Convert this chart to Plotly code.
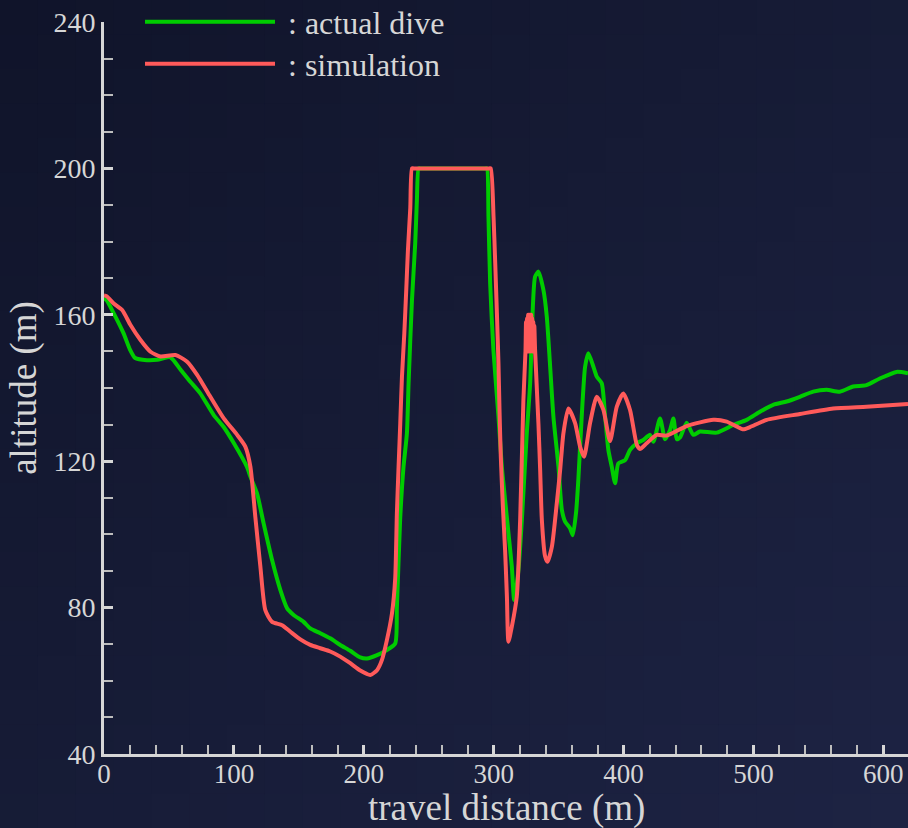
import plotly.graph_objects as go

# ---------------- data ----------------
dive_x = [0, 2, 7.5, 15, 20, 24, 33, 41, 51, 59, 66.5, 74, 84.5, 92, 100, 110, 112.7, 117.8,
          122.9, 129.4, 135.8, 141, 146, 153.7, 158.8, 166.5, 174.2, 181.9, 189.6, 197.3,
          202.5, 210.2, 217.8, 224.2, 225.5, 228, 230.6, 233.2, 234.5, 237.1, 239.6, 240.9,
          242.2, 243.5, 293.5, 294.8, 296, 297.3, 299.8, 303.7, 306.3, 308.8, 311.4, 314, 315.8, 319.1,
          321.7, 325.5, 328.1, 329.4, 331.9, 334.5, 338.3, 340.9, 343.5, 346, 349.9, 352.5,
          355, 358.8, 360.9, 363.5, 365.2, 367.8, 370.4, 372.9, 376.8, 379.4, 383.2, 385.8,
          388.3, 390.9, 393.5, 396, 401.2, 405, 410.2, 415.2, 420.4, 423, 428.1, 432, 435.8,
          438.4, 441, 443.5, 448.6, 453.7, 458.8, 471.7, 484.5, 494.8, 505, 515.2, 525.5,
          535.8, 546, 556.3, 566.5, 576.8, 587, 597.3, 610.2, 619]
dive_alt = [164.5, 164, 160.4, 155, 150.5, 148.2, 147.6, 147.7, 148.4, 145, 141.7, 138.6, 132.6,
            129.4, 124.9, 118.5, 115.8, 111.2, 103, 93, 84.8, 79.8, 78, 76.1, 74.3, 73, 71.6,
            69.8, 68.2, 66.4, 66.1, 67, 68.4, 70.2, 80, 104, 118.5, 127.6, 141.3, 164, 179.5,
            191.4, 200, 200, 200, 200, 186.8, 168.6, 150.4, 132.2, 118.5, 109.4, 100.3, 91.2, 82.1, 90.3,
            103.9, 127.6, 141.3, 155, 170.4, 171.8, 166.8, 159.5, 145.8, 132.2, 118.5, 106.7,
            103.5, 101.7, 99.8, 106.2, 115, 132.2, 145.8, 149.5, 145.8, 143.1, 141.3, 132.2,
            123.1, 118.5, 114, 119.4, 120.3, 123.1, 124.9, 125.8, 127.2, 125.3, 131.7, 126,
            128.5, 131.7, 126, 126.5, 130.5, 127.2, 128.1, 127.8, 129.9, 131.3, 133.5, 135.4,
            136.3, 137.6, 139, 139.5, 139, 140.4, 140.8, 142.6, 144.4, 144]

sim_x = [0, 2, 7.5, 14, 20.4, 28.1, 35.8, 43.5, 55, 64, 71.7, 81.9, 92.2, 102.5, 108.8, 112.7,
         116.5, 120.4, 124.2, 129.4, 137.1, 143.5, 151.2, 158.8, 166.5, 174.2, 181.9, 189.6,
         197.3, 205, 210.2, 214, 217.8, 221.7, 224.2, 225.5, 226.8, 228.1, 229.4, 231.2, 232.7,
         234, 235.8, 237.1, 238.4, 296.5, 297.8, 299.9, 301.2, 302.5, 303.7, 304.5, 305.5, 307.1, 308.8,
         310.2, 311.4, 314, 317.8, 320.4, 322.9, 324.5, 324.9, 325.3, 325.7, 326.1, 326.5,
         326.9, 327.3, 327.7, 328.1, 328.5, 328.9, 329.3, 329.7, 330.1, 330.5, 330.9, 331.3,
         331.9, 334.5, 335.8, 337.1, 339.6, 341.4, 344.8, 348.6, 351.2, 353.7, 357.5,
         362.7, 366.5, 369.6, 374.2, 379.4, 384.5, 389.6, 394.8, 399.8, 405, 410.2, 412.7,
         417.8, 425.5, 433.2, 448.6, 469.1, 479.4, 487, 492.2, 497.3, 510.2, 535.8, 561.4,
         587, 619]
sim_alt = [165.3, 165.1, 163.1, 161.3, 157.2, 153.1, 149.9, 148.6, 149, 147.2, 143.6, 137.6,
           131.7, 127.2, 124, 118.5, 104.8, 91.2, 79.3, 76.1, 75.2, 73.4, 71.3, 69.8, 68.9, 68,
           66.6, 64.8, 62.8, 61.6, 62.9, 65.7, 71.1, 78.4, 88, 105.8, 118.5, 130.4, 143.1,
           154.9, 166.8, 177.7, 189.1, 200, 200, 200, 200, 186.8, 174.1, 160.4, 146.7, 134, 121.2, 107.6,
           95.7, 83, 70.7, 74.8, 83, 104, 136.7, 150, 158, 151, 159, 150, 160,
           150, 160, 150, 160, 150, 160, 151, 159, 150, 158, 151, 157,
           150.4, 130, 117.6, 104, 94, 92.5, 96.6, 108.5, 117.6, 127.6, 134.4,
           130.4, 124, 121.2, 130.4, 137.6, 134, 125.5, 134.9, 138.5, 134, 124.5, 123.3,
           124.9, 127.2, 127, 129.6, 131.3, 130.8, 129.5, 128.7, 129.3, 131.3, 132.9, 134.4,
           134.9, 135.6]

series_names = ["\u00a0: actual dive", "\u00a0: simulation"]
x_title = "travel distance (m)"
y_title = "altitude (m)"
y_ticks = [40, 80, 120, 160, 200, 240]
x_ticks = [0, 100, 200, 300, 400, 500, 600]

# ---------------- style ----------------
GREEN = "#00cc00"
RED = "#ff5a5a"
AX = "#d6d6d6"
FONT = "Liberation Serif"

fig = go.Figure()
fig.add_trace(go.Scatter(x=dive_x, y=dive_alt, mode="lines", name=series_names[0],
                         line=dict(color=GREEN, width=4, shape="spline", smoothing=0.6),
                         legend="legend"))
fig.add_trace(go.Scatter(x=sim_x, y=sim_alt, mode="lines", name=series_names[1],
                         line=dict(color=RED, width=4, shape="spline", smoothing=0.6),
                         legend="legend2"))

# background gradient (diagonal) made of rectangles
W, H = 908, 828
L, R, T, B = 104, 0, 22, 74
pw, ph = W - L - R, H - T - B
c0 = (16, 20, 42)
c1 = (29, 35, 67)
n = 24
shapes = []
for i in range(n):
    for j in range(n):
        t = (i / (n - 1) + j / (n - 1)) / 2
        col = tuple(int(round(a + (b - a) * t)) for a, b in zip(c0, c1))
        px0, px1 = i * W / n, (i + 1) * W / n + 1
        py0, py1 = j * H / n, (j + 1) * H / n + 1
        shapes.append(dict(type="rect", xref="paper", yref="paper", layer="below",
                           x0=(px0 - L) / pw, x1=(px1 - L) / pw,
                           y0=(H - B - py1) / ph, y1=(H - B - py0) / ph,
                           line=dict(width=0), fillcolor="rgb(%d,%d,%d)" % col))

axis_common = dict(showgrid=False, zeroline=False, showline=True, linecolor=AX, linewidth=3,
                   ticks="inside", tickcolor=AX, tickwidth=2.5, ticklen=9, automargin=False)

legend_common = dict(xanchor="left", yanchor="middle", itemwidth=130,
                     bgcolor="rgba(0,0,0,0)", font=dict(family=FONT, size=32, color=AX))

fig.update_layout(
    width=W, height=H,
    margin=dict(l=L, r=R, t=T, b=B, pad=0, autoexpand=False),
    paper_bgcolor="rgb(23,28,55)", plot_bgcolor="rgba(0,0,0,0)",
    shapes=shapes,
    showlegend=True,
    xaxis=dict(range=[0, 619], tickvals=x_ticks,
               tickfont=dict(family=FONT, size=27, color=AX), ticklabelstandoff=-6,
               minor=dict(ticks="inside", dtick=20, ticklen=9, tickwidth=1.5, tickcolor="#bdbdbd"),
               **axis_common),
    yaxis=dict(range=[40, 240], tickvals=y_ticks,
               title=dict(text=y_title, standoff=6, font=dict(family=FONT, size=37, color=AX)),
               tickfont=dict(family=FONT, size=28, color=AX),
               minor=dict(ticks="inside", dtick=10, ticklen=9, tickwidth=1.5, tickcolor="#bdbdbd"),
               **axis_common),
    legend=dict(x=(140 - L) / pw, y=1.0, **legend_common),
    legend2=dict(x=(140 - L) / pw, y=(H - B - 64) / ph, **legend_common),
    annotations=[dict(text=x_title, xref="paper", yref="paper", x=0.5, y=-B / ph,
                      xanchor="center", yanchor="bottom", showarrow=False, yshift=-3,
                      font=dict(family=FONT, size=37, color=AX))],
)

fig.write_html("out.html")
